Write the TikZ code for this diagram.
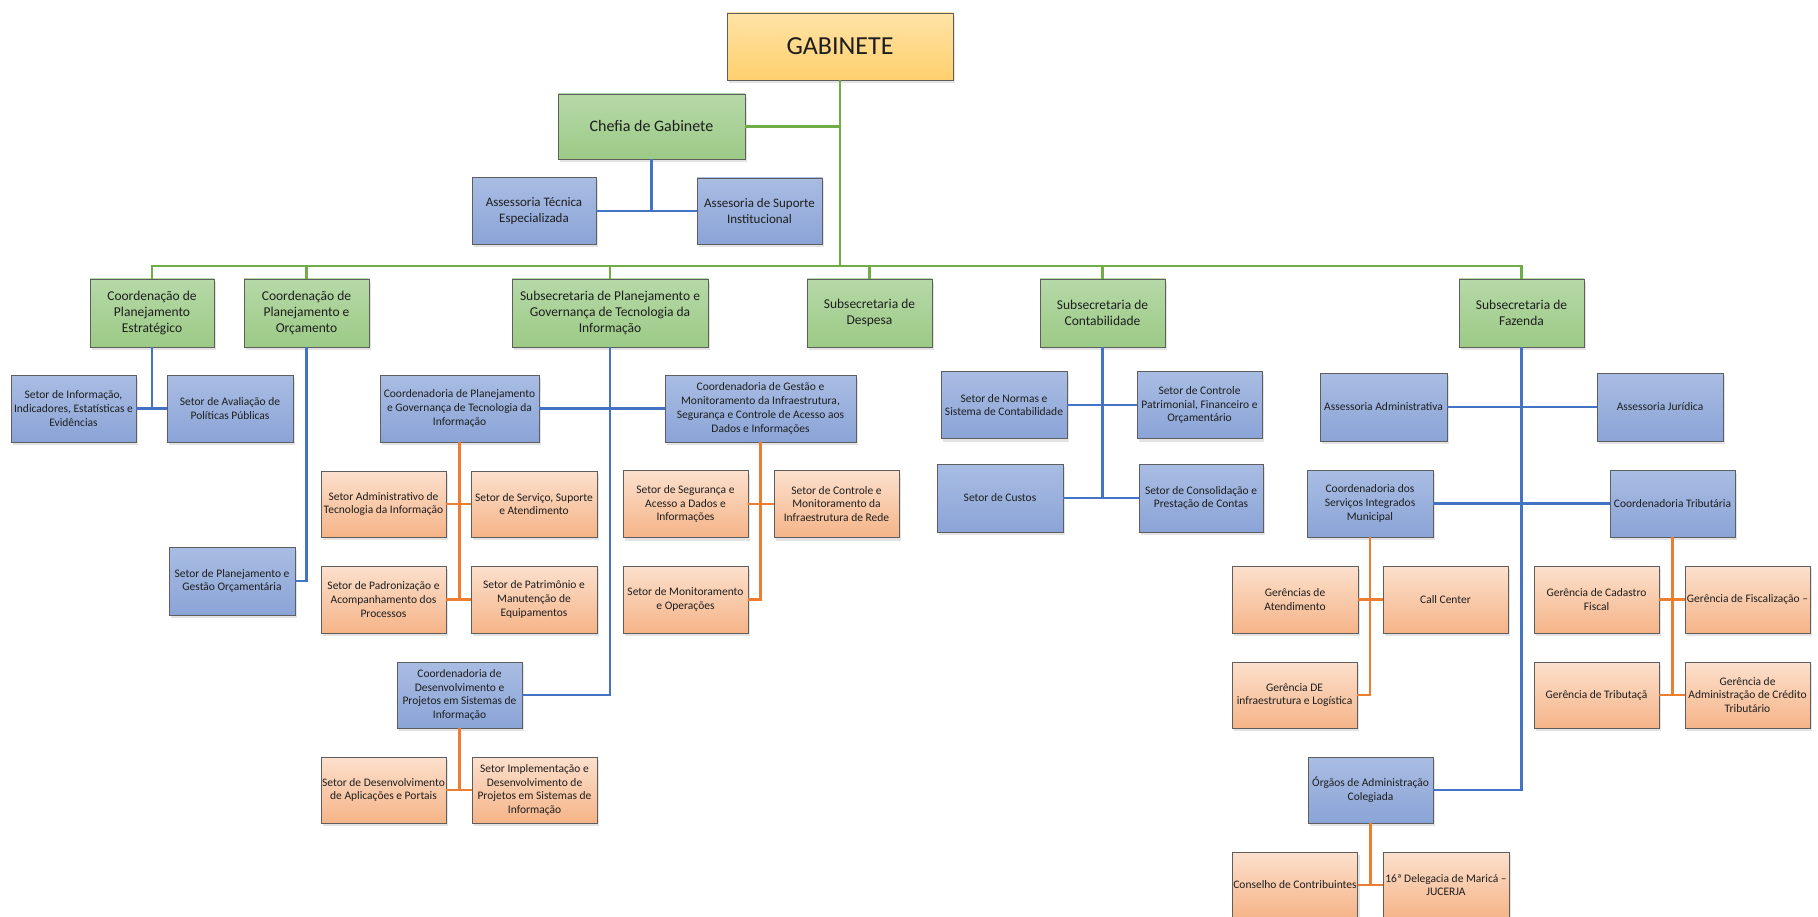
\documentclass[tikz,border=0pt]{standalone}
\usepackage{fontspec}
\setmainfont{Carlito}
\usetikzlibrary{shadows}
\definecolor{boxborder}{HTML}{5E5E5E}
\definecolor{textc}{HTML}{1E1E1E}
\definecolor{greentop}{HTML}{B6D9A8}
\definecolor{greenbot}{HTML}{9CCA86}
\definecolor{bluetop}{HTML}{A9BDE3}
\definecolor{bluebot}{HTML}{8BA4D7}
\definecolor{orangetop}{HTML}{FCE0CD}
\definecolor{orangebot}{HTML}{F5B488}
\definecolor{goldtop}{HTML}{FFE3A6}
\definecolor{goldbot}{HTML}{FFD06E}
\definecolor{gline}{HTML}{70AD47}
\definecolor{bline}{HTML}{4472C4}
\definecolor{oline}{HTML}{ED7D31}
\tikzset{
  box/.style={draw=boxborder, line width=0.8pt, minimum width=125pt, minimum height=67pt,
    align=center, inner sep=1pt, text=textc, font=\fontsize{11.5}{13.7}\selectfont,
    drop shadow={shadow xshift=2pt, shadow yshift=-3pt, opacity=0.22}},
  bluebox/.style={box, top color=bluetop, bottom color=bluebot},
  greenbox/.style={box, top color=greentop, bottom color=greenbot, minimum height=68pt, font=\fontsize{13.5}{16}\selectfont},
  orangebox/.style={box, top color=orangetop, bottom color=orangebot},
  goldbox/.style={box, top color=goldtop, bottom color=goldbot},
  gconn/.style={draw=gline, line width=2.2pt},
  bconn/.style={draw=bline, line width=2.2pt},
  oconn/.style={draw=oline, line width=2.2pt},
}
\begin{document}
\begin{tikzpicture}[x=1pt,y=-1pt]
\useasboundingbox[fill=white] (0,0) rectangle (1818,917);

% top
\node[goldbox, minimum width=226pt, minimum height=67pt, font=\fontsize{26}{30}\selectfont] (gab) at (840,46.5) {GABINETE};
\node[greenbox, minimum width=187pt, minimum height=65pt, font=\fontsize{16}{19}\selectfont] (chefia) at (651.5,126.5) {Chefia de Gabinete};
\node[bluebox, minimum width=124pt, font=\fontsize{13}{16}\selectfont] (atec) at (534,211) {Assessoria Técnica\\Especializada};
\node[bluebox, minimum width=125pt, minimum height=66pt, font=\fontsize{13}{16}\selectfont] (asup) at (759.5,211) {Assesoria de Suporte\\Institucional};

% level 2
\node[greenbox, minimum width=124pt] (cpe) at (152,313) {Coordenação de\\Planejamento\\Estratégico};
\node[greenbox] (cpo) at (306.5,313) {Coordenação de\\Planejamento e\\Orçamento};
\node[greenbox, minimum width=196pt] (sti) at (610,313) {Subsecretaria de Planejamento e\\Governança de Tecnologia da\\Informação};
\node[greenbox] (sdes) at (869.5,313) {Subsecretaria de\\Despesa};
\node[greenbox] (scont) at (1102.5,313) {Subsecretaria de\\Contabilidade};
\node[greenbox] (sfaz) at (1521.5,313) {Subsecretaria de\\Fazenda};

% left column
\node[bluebox] (sinf) at (73.5,408.5) {Setor de Informação,\\Indicadores, Estatísticas e\\Evidências};
\node[bluebox, minimum width=126pt] (saval) at (230,408.5) {Setor de Avaliação de\\Políticas Públicas};
\node[bluebox, minimum width=126pt, minimum height=68pt] (splan) at (232,581) {Setor de Planejamento e\\Gestão Orçamentária};

% TI
\node[bluebox, minimum width=159pt] (cpgti) at (459.5,408.5) {Coordenadoria de Planejamento\\e Governança de Tecnologia da\\Informação};
\node[orangebox, minimum height=66pt] (sadm) at (383.5,504) {Setor Administrativo de\\Tecnologia da Informação};
\node[orangebox, minimum width=126pt, minimum height=66pt] (sserv) at (534,504) {Setor de Serviço, Suporte\\e Atendimento};
\node[orangebox] (spad) at (383.5,599.5) {Setor de Padronização e\\Acompanhamento dos\\Processos};
\node[orangebox, minimum width=126pt] (spat) at (534,599.5) {Setor de Patrimônio e\\Manutenção de\\Equipamentos};
\node[bluebox, minimum width=191pt] (cgm) at (760.5,408.5) {Coordenadoria de Gestão e\\Monitoramento da Infraestrutura,\\Segurança e Controle de Acesso aos\\Dados e Informações};
\node[orangebox] (sseg) at (685.5,504) {Setor de Segurança e\\Acesso a Dados e\\Informações};
\node[orangebox] (sctrl) at (836.5,504) {Setor de Controle e\\Monitoramento da\\Infraestrutura de Rede};
\node[orangebox] (smon) at (685.5,599.5) {Setor de Monitoramento\\e Operações};
\node[bluebox, minimum height=66pt] (cdes) at (459.5,695) {Coordenadoria de\\Desenvolvimento e\\Projetos em Sistemas de\\Informação};
\node[orangebox, minimum height=66pt] (sdev) at (383.5,790) {Setor de Desenvolvimento\\de Aplicações e Portais};
\node[orangebox, minimum height=66pt] (simp) at (534.5,790) {Setor Implementação e\\Desenvolvimento de\\Projetos em Sistemas de\\Informação};

% Contabilidade
\node[bluebox, minimum width=126pt] (snorm) at (1004,405) {Setor de Normas e\\Sistema de Contabilidade};
\node[bluebox] (sctp) at (1199.5,405) {Setor de Controle\\Patrimonial, Financeiro e\\Orçamentário};
\node[bluebox, minimum width=126pt, minimum height=68pt] (scus) at (1000,498) {Setor de Custos};
\node[bluebox, minimum width=124pt, minimum height=68pt] (scons) at (1201,498) {Setor de Consolidação e\\Prestação de Contas};

% Fazenda
\node[bluebox, minimum width=127pt, minimum height=68pt] (aadm) at (1383.5,407) {Assessoria Administrativa};
\node[bluebox, minimum width=126pt, minimum height=68pt] (ajur) at (1660,407) {Assessoria Jurídica};
\node[bluebox, minimum width=126pt] (csim) at (1370,503.5) {Coordenadoria dos\\Serviços Integrados\\Municipal};
\node[bluebox] (ctrib) at (1672.5,503.5) {Coordenadoria Tributária};
\node[orangebox, minimum width=126pt] (gate) at (1295,599.5) {Gerências de\\Atendimento};
\node[orangebox] (ccall) at (1445.5,599.5) {Call Center};
\node[orangebox, minimum height=66pt] (ginf) at (1294.5,695) {Gerência DE\\infraestrutura e Logística};
\node[orangebox] (gcad) at (1596.5,599.5) {Gerência de Cadastro\\Fiscal};
\node[orangebox] (gfis) at (1747.5,599.5) {Gerência de Fiscalização –};
\node[orangebox, minimum height=66pt] (gtrib) at (1596.5,695) {Gerência de Tributaçã};
\node[orangebox, minimum height=66pt] (gadm) at (1747.5,695) {Gerência de\\Administração de Crédito\\Tributário};
\node[bluebox, minimum height=66pt] (org) at (1370.5,790) {Órgãos de Administração\\Colegiada};
\node[orangebox, minimum width=124pt, minimum height=66pt] (ccon) at (1295,885) {Conselho de Contribuintes};
\node[orangebox, minimum width=126pt, minimum height=66pt] (sdeleg) at (1446,885) {16ª Delegacia de Maricá –\\JUCERJA};

% green connectors
\coordinate (bus) at (0,266);
\draw[gconn] (gab.south) -- (gab.south |- bus);
\draw[gconn] (chefia.east) -- (chefia.east -| gab.south);
\draw[gconn] (cpe.north) -- (cpe.north |- bus) -- (sfaz.north |- bus) -- (sfaz.north);
\foreach \n in {cpo,sti,sdes,scont} \draw[gconn] (\n.north) -- (\n.north |- bus);

% blue connectors
\draw[bconn] (chefia.south) -- (chefia.south |- atec.east);
\draw[bconn] (atec.east) -- (asup.west);
\draw[bconn] (cpe.south) -- (cpe.south |- sinf.east);
\draw[bconn] (sinf.east) -- (saval.west);
\draw[bconn] (cpo.south) |- (splan.east);
\draw[bconn] (sti.south) |- (cdes.east);
\draw[bconn] (cpgti.east) -- (cgm.west);
\draw[bconn] (scont.south) -- (scont.south |- scus.east);
\draw[bconn] (snorm.east) -- (sctp.west);
\draw[bconn] (scus.east) -- (scons.west);
\draw[bconn] (sfaz.south) |- (org.east);
\draw[bconn] (aadm.east) -- (ajur.west);
\draw[bconn] (csim.east) -- (ctrib.west);

% orange connectors
\draw[oconn] (cpgti.south) -- (cpgti.south |- spad.east);
\draw[oconn] (sadm.east) -- (sserv.west);
\draw[oconn] (spad.east) -- (spat.west);
\draw[oconn] (cgm.south) |- (smon.east);
\draw[oconn] (sseg.east) -- (sctrl.west);
\draw[oconn] (cdes.south) -- (cdes.south |- sdev.east);
\draw[oconn] (sdev.east) -- (simp.west);
\draw[oconn] (csim.south) |- (ginf.east);
\draw[oconn] (gate.east) -- (ccall.west);
\draw[oconn] (ctrib.south) -- (ctrib.south |- gtrib.east);
\draw[oconn] (gcad.east) -- (gfis.west);
\draw[oconn] (gtrib.east) -- (gadm.west);
\draw[oconn] (org.south) -- (org.south |- ccon.east);
\draw[oconn] (ccon.east) -- (sdeleg.west);
\end{tikzpicture}
\end{document}
